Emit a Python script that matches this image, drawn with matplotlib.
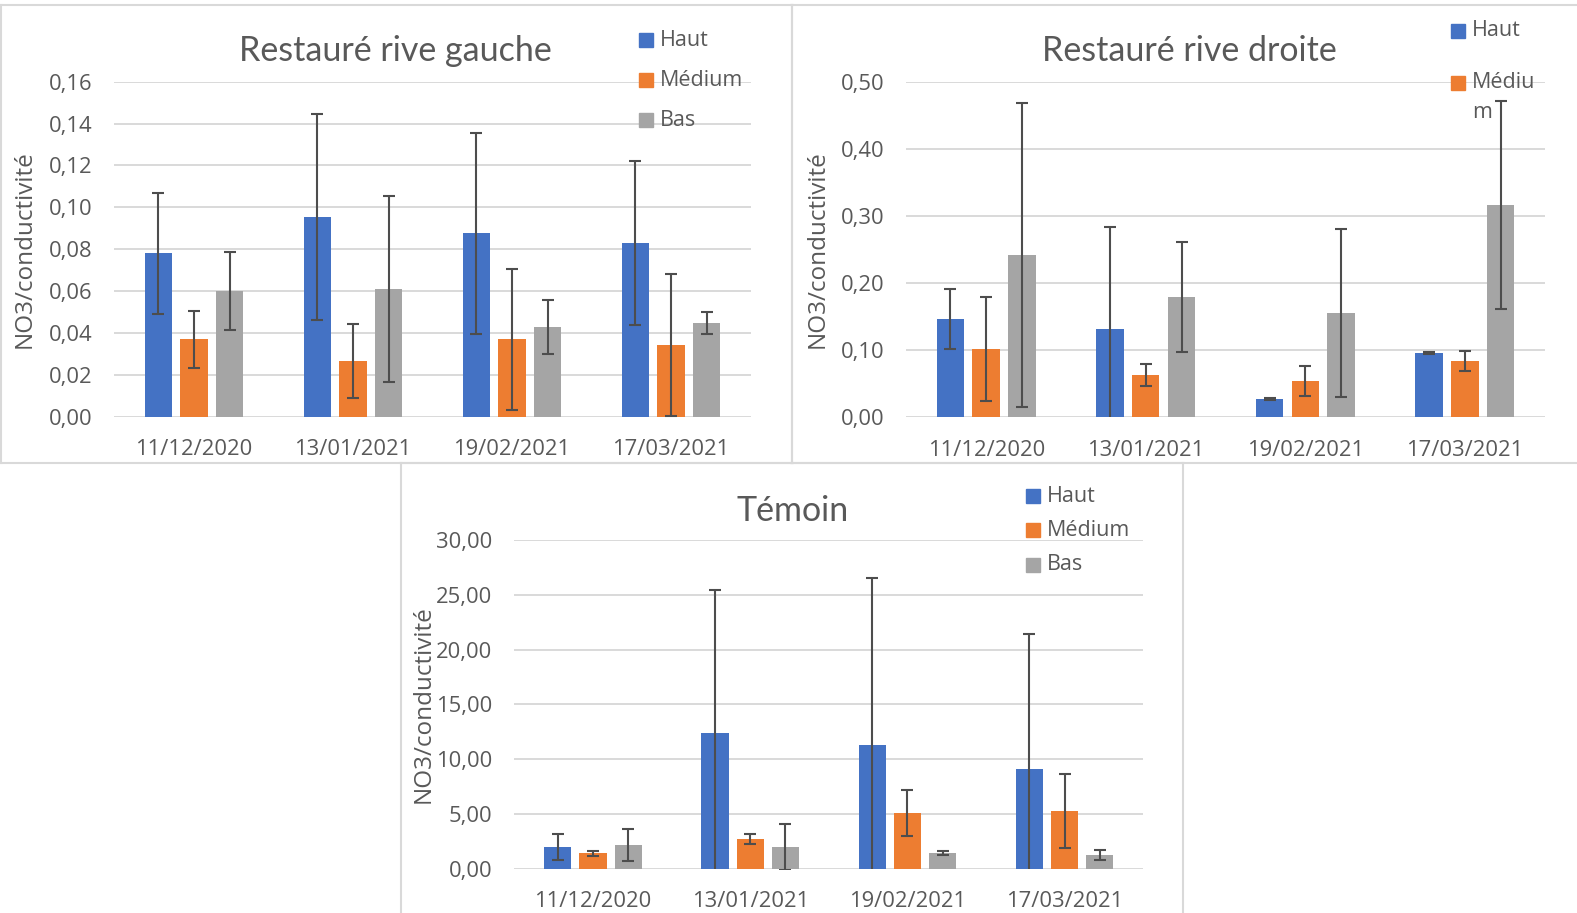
import matplotlib
matplotlib.use('Agg')
import matplotlib.pyplot as plt
import numpy as np
from matplotlib.lines import Line2D
from matplotlib.patches import Rectangle
from matplotlib.ticker import FuncFormatter

# dates and series
dates = ['11/12/2020', '13/01/2021', '19/02/2021', '17/03/2021']
series = ['Haut', 'Médium', 'Bas']
colors = ['#4472C4', '#ED7D31', '#A5A5A5']

# Restauré rive gauche
gauche_haut = [0.078, 0.0954, 0.0877, 0.083]
gauche_medium = [0.0369, 0.0266, 0.0369, 0.0342]
gauche_bas = [0.060, 0.061, 0.0428, 0.0447]
gauche_haut_err = [0.029, 0.049, 0.048, 0.039]
gauche_medium_err = [0.0137, 0.0177, 0.0336, 0.0341]
gauche_bas_err = [0.0185, 0.0443, 0.0127, 0.0052]

# Restauré rive droite
droite_haut = [0.1465, 0.1316, 0.0273, 0.0958]
droite_medium = [0.1018, 0.0631, 0.0541, 0.0839]
droite_bas = [0.2418, 0.1792, 0.1554, 0.3163]
droite_haut_err = [0.045, 0.152, 0.002, 0.002]
droite_medium_err = [0.077, 0.0166, 0.0226, 0.0155]
droite_bas_err = [0.227, 0.082, 0.1246, 0.155]

# Témoin
temoin_haut = [1.98, 12.39, 11.29, 9.10]
temoin_medium = [1.40, 2.71, 5.08, 5.26]
temoin_bas = [2.16, 1.98, 1.43, 1.25]
temoin_haut_err = [1.23, 13.05, 15.2, 12.3]
temoin_medium_err = [0.26, 0.45, 2.08, 3.36]
temoin_bas_err = [1.5, 2.13, 0.21, 0.44]

W, H = 1577, 913
TXT = '#595959'
GRID = '#D9D9D9'
plt.rcParams['font.family'] = ['Open Sans', 'DejaVu Sans']

fig = plt.figure(figsize=(W / 100, H / 100), dpi=100)


def px_axes(x0, y0, x1, y1):
    # axes from pixel box (top-left origin)
    return fig.add_axes([x0 / W, 1 - y1 / H, (x1 - x0) / W, (y1 - y0) / H])


def draw_panel(ax, vals, errs, ymax, ystep, label_x):
    x = np.arange(len(dates))
    offsets = [-0.224, 0, 0.224]
    for i in range(3):
        ax.bar(x + offsets[i], vals[i], width=0.172, color=colors[i], zorder=2)
        ax.errorbar(x + offsets[i], vals[i], yerr=errs[i], fmt='none',
                    ecolor='#4D4D4D', elinewidth=1.5, capsize=4, capthick=1.5, zorder=3)
    ax.set_xlim(-0.5, len(dates) - 0.5)
    ax.set_ylim(0, ymax)
    ax.set_yticks(np.arange(0, ymax + ystep / 2, ystep))
    ax.yaxis.set_major_formatter(FuncFormatter(lambda v, p: f'{v:.2f}'.replace('.', ',')))
    ax.set_xticks(x)
    ax.set_xticklabels(dates)
    ax.grid(axis='y', color=GRID, lw=1.4, zorder=0)
    ax.set_axisbelow(True)
    for s in ax.spines.values():
        s.set_visible(False)
    ax.tick_params(axis='both', length=0, labelsize=15.8, labelcolor=TXT)
    ax.tick_params(axis='y', pad=16)
    ax.tick_params(axis='x', pad=16)
    ax.set_ylabel('NO3/conductivité', fontsize=17.5, color=TXT)
    ax.yaxis.set_label_coords(label_x, 0.5)


def legend(x, ys, labels, cols):
    for y, lab, c in zip(ys, labels, cols):
        if c is not None:
            fig.add_artist(Rectangle((x / W, 1 - (y + 7) / H), 14 / W, 14 / H,
                                     transform=fig.transFigure, color=c))
        fig.text((x + 21) / W, 1 - y / H, lab, fontsize=15.5, color=TXT,
                 va='center', ha='left')


def box(x0, y0, x1, y1):
    for xs, ys in [((x0, x1), (y0, y0)), ((x0, x1), (y1, y1)),
                   ((x0, x0), (y0, y1)), ((x1, x1), (y0, y1))]:
        fig.add_artist(Line2D([v / W for v in xs], [1 - v / H for v in ys],
                              color=GRID, lw=1.5, transform=fig.transFigure))


# panel borders
box(0.5, 5, 791.5, 463)
box(791.5, 5, W + 5, 463)
box(401, 463, 1183, H + 5)

ax1 = px_axes(114.5, 81.7, 750.5, 416.7)
draw_panel(ax1, [gauche_haut, gauche_medium, gauche_bas],
           [gauche_haut_err, gauche_medium_err, gauche_bas_err], 0.16, 0.02, -0.122)
fig.text(395 / W, 1 - 51 / H, 'Restauré rive gauche', fontsize=24.5, color=TXT,
         family='Lato', ha='center', va='center')
legend(639, [40, 80, 120.5], series, colors)

ax2 = px_axes(906.4, 81.7, 1544.7, 417.3)
draw_panel(ax2, [droite_haut, droite_medium, droite_bas],
           [droite_haut_err, droite_medium_err, droite_bas_err], 0.5, 0.1, -0.121)
fig.text(1189 / W, 1 - 51 / H, 'Restauré rive droite', fontsize=24.5, color=TXT,
         family='Lato', ha='center', va='center')
# legend is cut in the original: only two entries, the second one wrapped
legend(1451, [31, 83, 113], ['Haut', 'Médiu', 'm'], colors[:2] + [None])

ax3 = px_axes(514.4, 540, 1143.3, 868.7)
draw_panel(ax3, [temoin_haut, temoin_medium, temoin_bas],
           [temoin_haut_err, temoin_medium_err, temoin_bas_err], 30, 5, -0.125)
fig.text(793 / W, 1 - 511 / H, 'Témoin', fontsize=24.5, color=TXT,
         family='Lato', ha='center', va='center')
legend(1026, [496, 530, 565], series, colors)

fig.savefig('out.png', dpi=100)
